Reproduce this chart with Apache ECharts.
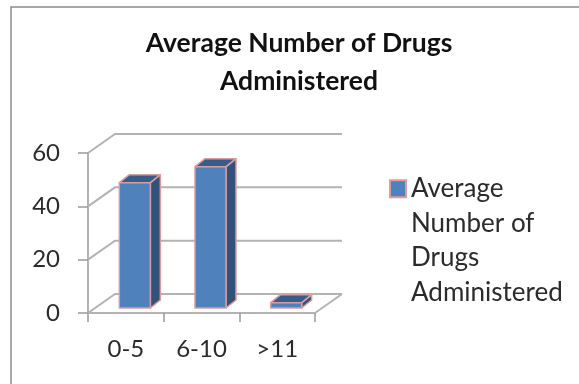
<!DOCTYPE html>
<html>
<head>
<meta charset="utf-8">
<style>html,body{margin:0;padding:0;background:#fff}#chart{width:579px;height:384px}</style>
<script src="https://cdn.jsdelivr.net/npm/echarts@6/dist/echarts.min.js"></script>
</head>
<body>
<div id="chart"></div>
<script>
const categories = ['0-5', '6-10', '>11'];
const drugCounts = [47, 53, 2];
const yTicks = [0, 20, 40, 60];
const seriesName = 'Average Number of Drugs Administered';

// Oblique projection used for the fake 3D box
const wallDx = 27, wallDy = -19;
const barDx = 9, barDy = -5;
const barDepthX = 10, barDepthY = -8;
const barRatio = 0.41;

const gridColor = '#b3b3b3';
const textColor = '#2b2b2b';
const font = 'Lato';

function renderWall(params, api) {
  const value = api.value(0);
  const p = api.coord([0, value]);
  const rect = params.coordSys;
  const x0 = rect.x, x1 = rect.x + rect.width;
  const style = { stroke: gridColor, lineWidth: 2, fill: null };
  const children = [{
    type: 'polyline',
    shape: { points: [[x0, p[1]], [x0 + wallDx, p[1] + wallDy], [x1 + wallDx, p[1] + wallDy]] },
    style
  }];
  if (value === 0) {
    children.push({
      type: 'line',
      shape: { x1: x1, y1: p[1], x2: x1 + wallDx, y2: p[1] + wallDy },
      style
    });
  }
  return { type: 'group', children };
}

function renderBar(params, api) {
  const top = api.coord([api.value(0), api.value(1)]);
  const base = api.coord([api.value(0), 0]);
  const w = api.size([1, 0])[0] * barRatio;
  const xl = top[0] - w / 2 + barDx, xr = xl + w;
  const yt = top[1] + barDy, yb = base[1] + barDy;
  const edge = { stroke: '#dd9c9c', lineWidth: 1.5, lineJoin: 'round' };
  return {
    type: 'group',
    children: [
      { type: 'polygon',
        shape: { points: [[xr, yt], [xr + barDepthX, yt + barDepthY], [xr + barDepthX, yb + barDepthY], [xr, yb]] },
        style: { fill: '#31527a', ...edge } },
      { type: 'polygon',
        shape: { points: [[xl, yt], [xl + barDepthX, yt + barDepthY], [xr + barDepthX, yt + barDepthY], [xr, yt]] },
        style: { fill: '#385d8a', ...edge } },
      { type: 'rect',
        shape: { x: xl, y: yt, width: w, height: yb - yt },
        style: { fill: '#4f81bd', ...edge } }
    ]
  };
}

const chart = echarts.init(document.getElementById('chart'), null, { renderer: 'canvas' });
chart.setOption({
  animation: false,
  backgroundColor: '#fff',
  title: {
    text: 'Average Number of Drugs\nAdministered',
    left: 294, top: 19, textAlign: 'center',
    textStyle: { fontFamily: font, fontWeight: 'bold', fontSize: 26.5, lineHeight: 38, color: '#111' }
  },
  legend: {
    data: [seriesName],
    left: 384, top: 63,
    itemWidth: 16, itemHeight: 17, itemGap: 0,
    icon: 'rect',
    // leading blank lines keep the first text line level with the swatch
    formatter: () => '\n\n\nAverage\nNumber of\nDrugs\nAdministered',
    textStyle: { fontFamily: font, fontSize: 26, lineHeight: 34.5, color: textColor }
  },
  grid: { left: 88, right: 264, top: 153, bottom: 71 },
  xAxis: {
    type: 'category',
    data: categories,
    axisLine: { lineStyle: { color: gridColor, width: 2 } },
    axisTick: { show: true, length: 9, lineStyle: { color: '#9a9a9a', width: 1.5 } },
    axisLabel: { margin: 24, fontFamily: font, fontSize: 24, color: textColor },
    splitLine: { show: false }
  },
  yAxis: {
    type: 'value',
    min: 0, max: 60, interval: 20,
    axisLine: { show: true, lineStyle: { color: gridColor, width: 2 } },
    axisTick: { show: true, length: 10, lineStyle: { color: '#9a9a9a', width: 1.5 } },
    axisLabel: { margin: 28, fontFamily: font, fontSize: 24, color: textColor },
    splitLine: { show: false }
  },
  graphic: [{
    type: 'polyline',
    silent: true,
    shape: { points: [[11, 384], [11, 7], [579, 7]] },
    style: { stroke: '#8c8c8c', lineWidth: 1.5, fill: null }
  }],
  series: [
    {
      name: 'wall',
      type: 'custom',
      silent: true,
      renderItem: renderWall,
      encode: { y: 0 },
      data: yTicks.map(v => [v]),
      z: 1
    },
    {
      name: seriesName,
      type: 'custom',
      renderItem: renderBar,
      encode: { x: 0, y: 1 },
      itemStyle: { color: '#4f81bd', borderColor: '#dd9c9c', borderWidth: 1.5 },
      data: drugCounts.map((v, i) => [i, v]),
      z: 3
    }
  ]
});
</script>
</body>
</html>
